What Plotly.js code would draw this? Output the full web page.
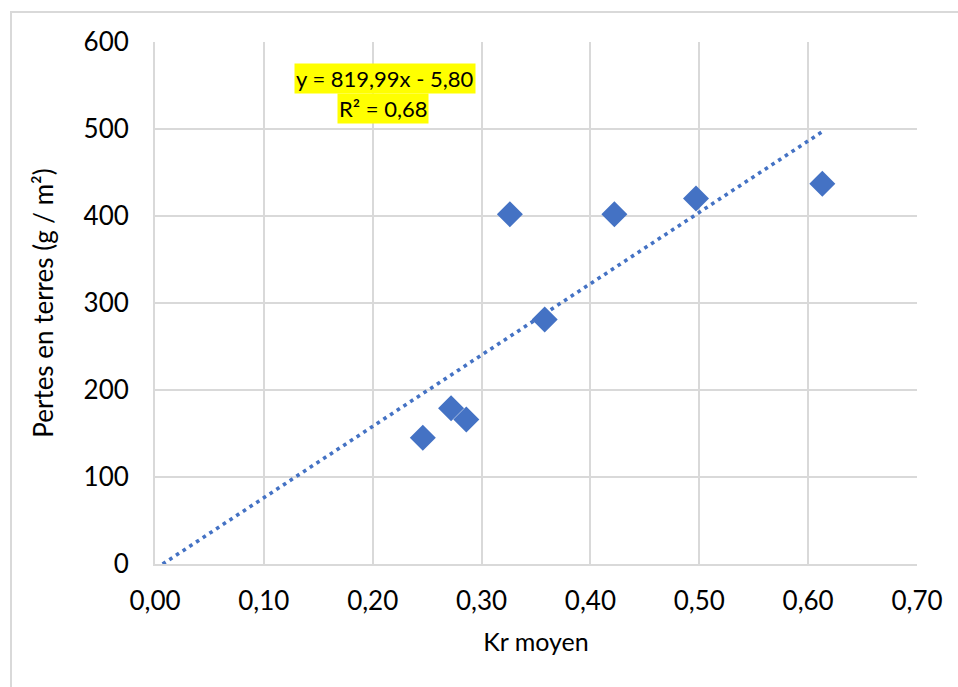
<!DOCTYPE html>
<html>
<head>
<meta charset="utf-8">
<script src="https://cdn.plot.ly/plotly-3.0.1.min.js"></script>
<style>
html,body{margin:0;padding:0;background:#fff;}
#chart{width:958px;height:687px;}
</style>
</head>
<body>
<div id="chart"></div>
<script>
// Data
const krMoyen = [0.246, 0.272, 0.286, 0.326, 0.358, 0.422, 0.497, 0.613];
const pertes  = [145, 179, 166, 402, 281, 402, 420, 437];

// Trendline as reported on the chart
const slope = 819.99;
const intercept = -5.80;
const trendX = [0.007, 0.613];
const trendY = trendX.map(x => slope * x + intercept);

const eqText = "y = 819,99x - 5,80";
const r2Text = "R² = 0,68";

const xTicks = [0, 0.1, 0.2, 0.3, 0.4, 0.5, 0.6, 0.7];
const yTicks = [0, 100, 200, 300, 400, 500, 600];

const FONT = "Lato, 'Open Sans', sans-serif";
const blue = "#4472C4";
const grid = "#d9d9d9";

const traces = [
  {
    x: trendX, y: trendY, type: "scatter", mode: "lines",
    line: {color: blue, width: 3.6, dash: "3.6px,4.4px"},
    hoverinfo: "skip", showlegend: false
  },
  {
    x: krMoyen, y: pertes, type: "scatter", mode: "markers",
    marker: {symbol: "diamond", size: 20, color: blue, line: {width: 0}},
    showlegend: false
  }
];

const layout = {
  width: 958, height: 687,
  margin: {l: 155, r: 41, t: 42, b: 123},
  paper_bgcolor: "#fff", plot_bgcolor: "#fff",
  separators: ", ",
  font: {family: FONT, size: 26, color: "#000"},
  showlegend: false,
  xaxis: {
    range: [0, 0.7], tickvals: xTicks, tickformat: ".2f",
    showgrid: true, gridcolor: grid, gridwidth: 2,
    zeroline: false, showline: true, linecolor: grid, linewidth: 2,
    mirror: false, ticks: "", ticklabelstandoff: 13,
    tickfont: {size: 26},
    title: {text: "Kr moyen", font: {size: 25}, standoff: 18}
  },
  yaxis: {
    range: [0, 600], tickvals: yTicks,
    showgrid: true, gridcolor: grid, gridwidth: 2,
    zeroline: false, showline: true, linecolor: grid, linewidth: 2,
    ticks: "", ticklabelstandoff: 19,
    tickfont: {size: 26},
    title: {text: "Pertes en terres (g / m²)", font: {size: 26}, standoff: 22}
  },
  annotations: [
    {xref: "x", yref: "y", x: 0.2112, y: 558, text: eqText, showarrow: false,
     bgcolor: "#FFFF00", borderpad: 1, font: {size: 22, color: "#000"}},
    {xref: "x", yref: "y", x: 0.2098, y: 523.5, text: r2Text, showarrow: false,
     bgcolor: "#FFFF00", borderpad: 1, font: {size: 22, color: "#000"}}
  ],
  shapes: [
    {type: "rect", xref: "paper", yref: "paper",
     x0: (11 - 155) / 762, x1: 1.2, y0: -0.4, y1: (564 - 12) / 522,
     line: {color: "#d9d9d9", width: 2}, fillcolor: "rgba(0,0,0,0)", layer: "below"}
  ]
};

Plotly.newPlot("chart", traces, layout, {displayModeBar: false, staticPlot: true});
</script>
</body>
</html>
